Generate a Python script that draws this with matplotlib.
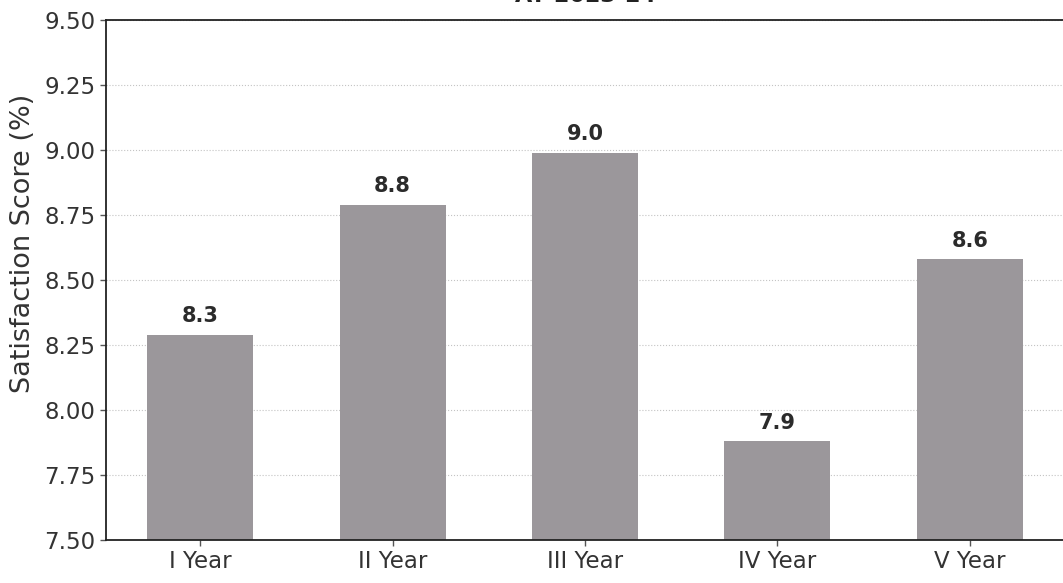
import matplotlib.pyplot as plt

years = ['I Year', 'II Year', 'III Year', 'IV Year', 'V Year']
scores = [8.29, 8.79, 8.99, 7.88, 8.58]
score_labels = ['8.3', '8.8', '9.0', '7.9', '8.6']
y_ticks = [7.50, 7.75, 8.00, 8.25, 8.50, 8.75, 9.00, 9.25, 9.50]

plt.rcParams['font.family'] = 'DejaVu Sans'

fig = plt.figure(figsize=(10.63, 5.83), dpi=100)
ax = fig.add_axes([106 / 1063, 43 / 583, 958 / 1063, 520 / 583])

x = range(len(years))
bars = ax.bar(x, scores, width=0.55, color='#9b979b', zorder=2)
ax.bar_label(bars, labels=score_labels, padding=6, fontsize=15,
             fontweight='bold', color='#2b2b2b')

ax.set_xlim(-0.49, 4.49)
ax.set_ylim(7.5, 9.5)
ax.set_yticks(y_ticks)
ax.set_yticklabels([f'{v:.2f}' for v in y_ticks], fontsize=16.5, color='#333333')
ax.set_xticks(list(x))
ax.set_xticklabels(years, fontsize=16.5, color='#333333')
ax.tick_params(axis='both', length=4, width=1, color='#555555')

ax.grid(axis='y', linestyle=':', color='#c4c4c4', linewidth=0.8, zorder=0)
ax.spines['right'].set_visible(False)
for s in ['left', 'bottom', 'top']:
    ax.spines[s].set_linewidth(1.3)
    ax.spines[s].set_color('#222222')

ax.set_ylabel('Satisfaction Score (%)', fontsize=19.5, color='#333333')
ax.yaxis.set_label_coords(-0.073, 0.571)
ax.set_title('AY 2023-24', fontsize=16, fontweight='bold', pad=13, color='#222222')

fig.savefig('out.png', dpi=100)
